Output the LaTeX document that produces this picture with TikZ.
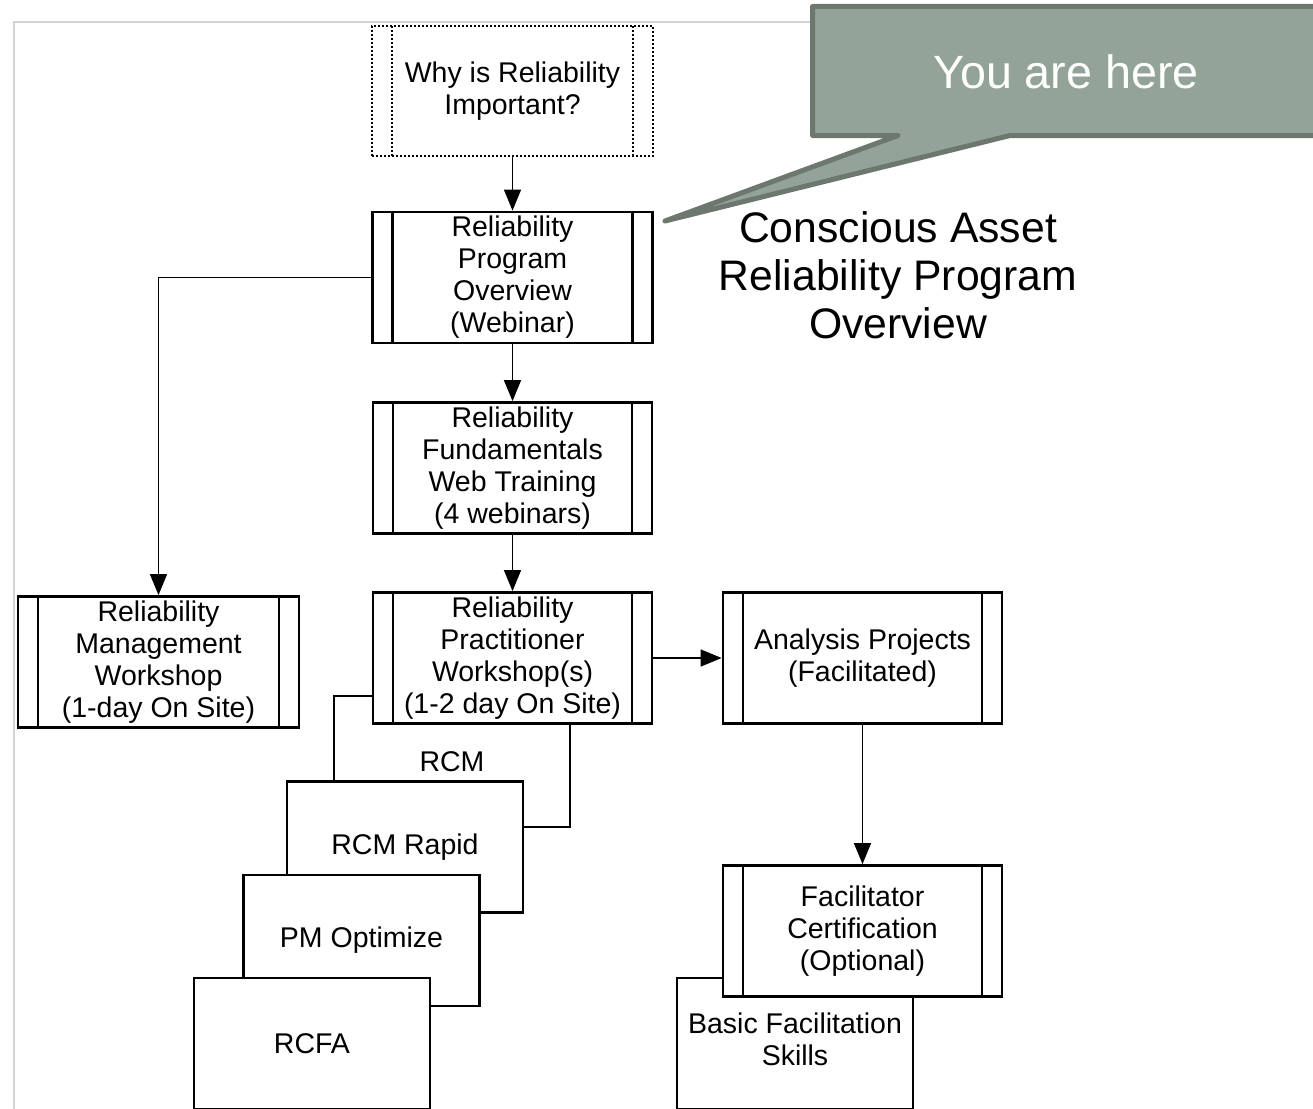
\documentclass[tikz,border=0pt]{standalone}
\usepackage{fontspec}
\setmainfont{Liberation Sans}
\usetikzlibrary{arrows.meta}
\definecolor{calloutfill}{HTML}{93A397}
\definecolor{calloutedge}{HTML}{6C786D}
\definecolor{framegray}{HTML}{D2D2D2}
\tikzset{
  boxtext/.style={font=\fontsize{28.5}{32}\selectfont, align=center, text=black},
  plainbox/.style={boxtext, draw=black, line width=2.8pt, fill=white,
    inner sep=0pt, minimum width=236pt, minimum height=131pt},
  procbox/.style={boxtext, draw=black, line width=2.8pt, fill=white,
    inner sep=0pt, minimum width=280pt, minimum height=131pt,
    path picture={
      \draw[line width=2.8pt]
        ([xshift=20pt]path picture bounding box.north west) --
        ([xshift=20pt]path picture bounding box.south west)
        ([xshift=-20pt]path picture bounding box.north east) --
        ([xshift=-20pt]path picture bounding box.south east);}},
  dotbox/.style={boxtext, draw=black, line width=2.8pt,
    dash pattern=on 2.2pt off 1.8pt, fill=white,
    inner sep=0pt, minimum width=281pt, minimum height=130pt,
    path picture={
      \draw[line width=2.8pt, dash pattern=on 2.2pt off 1.8pt]
        ([xshift=20pt]path picture bounding box.north west) --
        ([xshift=20pt]path picture bounding box.south west)
        ([xshift=-20pt]path picture bounding box.north east) --
        ([xshift=-20pt]path picture bounding box.south east);}},
  link/.style={draw=black, line width=1.5pt,
    -{Triangle[length=21pt,width=17pt]}},
}
\begin{document}
\begin{tikzpicture}[x=1pt,y=-1pt]
  \useasboundingbox (0,0) rectangle (1313,1108);
  \clip (0,0) rectangle (1313,1108);
  \fill[white] (0,0) rectangle (1313,1108);

  % thin page frame
  \draw[framegray, line width=1.6pt] (14,1110) -- (14,22) -- (1313,22);

  % upper chain
  \node[dotbox] (why) at (512.5,91) {Why is Reliability\\Important?};
  \node[procbox] (overview) at (512.5,277.5) {Reliability\\Program\\Overview\\(Webinar)};
  \node[procbox, minimum width=279pt] (fund) at (512.5,468) {Reliability\\Fundamentals\\Web Training\\(4 webinars)};

  % stacked method boxes, back to front
  \node[plainbox] (rcm) at (452,761.5) {RCM};
  \node[procbox, minimum width=279pt] (pract) at (512.5,658) {Reliability\\Practitioner\\Workshop(s)\\(1-2 day On Site)};
  \node[plainbox] (rapid) at (405,847) {RCM Rapid};
  \node[plainbox] (pmopt) at (361.5,940.5) {PM Optimize};
  \node[plainbox] (rcfa) at (312,1043.5) {RCFA};

  % management workshop
  \node[procbox, minimum width=281pt] (mgmt) at (158.5,662) {Reliability\\Management\\Workshop\\(1-day On Site)};

  % facilitation branch
  \node[procbox, minimum width=279pt] (analysis) at (862.5,658) {Analysis Projects\\(Facilitated)};
  \node[plainbox] (basic) at (795,1043.5) {};
  \node[boxtext] (basictxt) at (795,1039) {Basic Facilitation\\Skills};
  \node[procbox, minimum width=279pt] (facil) at (862.5,931) {Facilitator\\Certification\\(Optional)};

  % connectors
  \draw[link] (why.south) -- (overview.north);
  \draw[link] (overview.south) -- (fund.north);
  \draw[link] (fund.south) -- (pract.north);
  \draw[link] (overview.west) -| (mgmt.north);
  \draw[link] (pract.east) -- (analysis.west);
  \draw[link] (analysis.south) -- (facil.north);

  % program title
  \node[font=\fontsize{42.7}{48}\selectfont, align=center] (title) at (898,275)
    {Conscious Asset\\Reliability Program\\Overview};

  % callout
  \draw[calloutedge, fill=calloutfill, line width=5pt, line join=round]
    (812.5,6.5) -- (1330,6.5) -- (1330,135.5) -- (1010,135.5) --
    (665,221) -- (898,135.5) -- (812.5,135.5) -- cycle;
  \node[font=\fontsize{46.7}{52}\selectfont, text=white] (here) at (1066,72) {You are here};
\end{tikzpicture}
\end{document}
